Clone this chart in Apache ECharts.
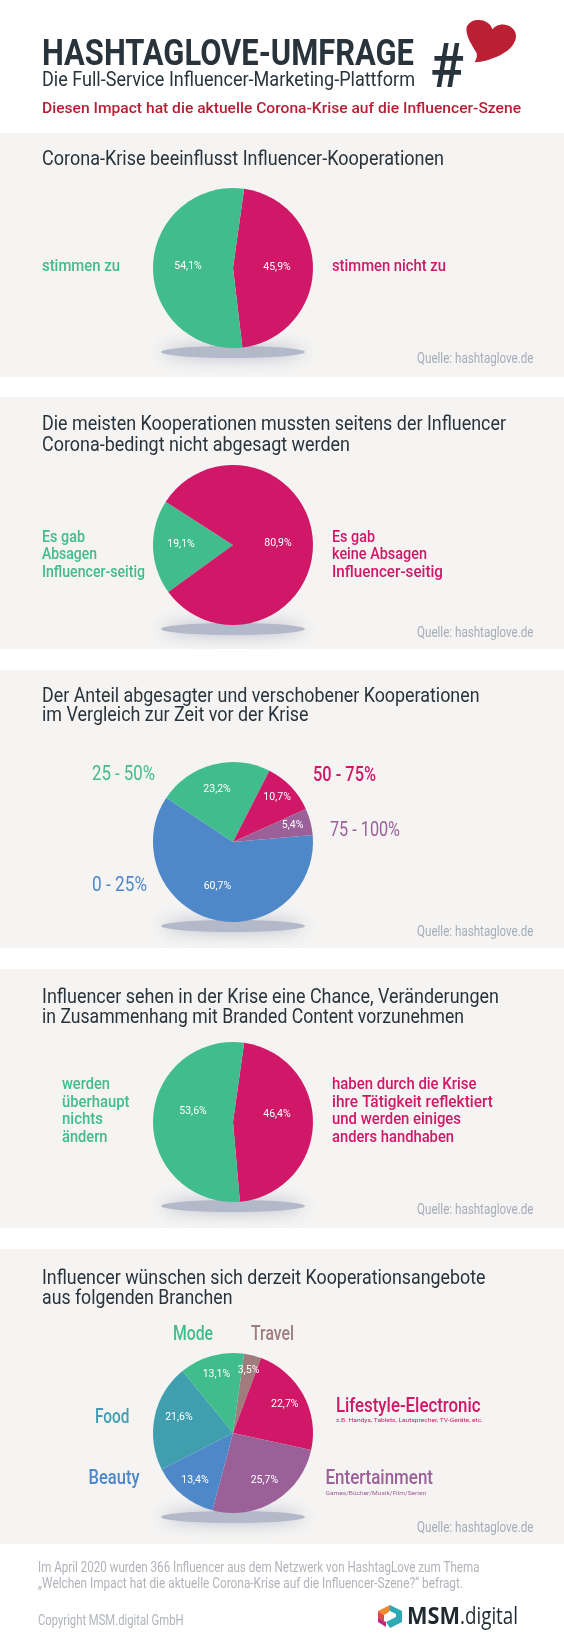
<!DOCTYPE html>
<html><head><meta charset="utf-8">
<style>html,body{margin:0;padding:0;background:#fff}#c{width:564px;height:1651px}</style>
<script src="https://cdn.jsdelivr.net/npm/echarts@6/dist/echarts.min.js"></script>
</head><body><div id="c"></div>
<script>
// ---- data ----
const corona1Names = ['stimmen nicht zu', 'stimmen zu'];
const corona1Values = [45.9, 54.1];
const absagenNames = ['Es gab Absagen Influencer-seitig', 'Es gab keine Absagen Influencer-seitig'];
const absagenValues = [19.1, 80.9];
const anteilNames = ['0 - 25%', '25 - 50%', '50 - 75%', '75 - 100%'];
const anteilValues = [60.7, 23.2, 10.7, 5.4];
const chanceNames = ['haben durch die Krise ihre Tätigkeit reflektiert und werden einiges anders handhaben', 'werden überhaupt nichts ändern'];
const chanceValues = [46.4, 53.6];
const branchenNames = ['Travel', 'Lifestyle-Electronic', 'Entertainment', 'Beauty', 'Food', 'Mode'];
const branchenValues = [3.5, 22.7, 25.7, 13.4, 21.6, 13.1];

// ---- styles ----
const GREEN = '#41bc8c', MAG = '#d01768', BLUE = '#4f88c9', PURP = '#9c6098', TEAL = '#3f9fae', TAUPE = '#a07c7c';
const DARK = '#28333b', GREY = '#a6adb8', FOOT = '#b0b4ba', BG = '#f5f4f3';
const SANS = 'Roboto';

const ctx = document.createElement('canvas').getContext('2d');
function T(text, x, base, right, size, color, weight, family) {
  weight = weight || 400; family = family || SANS;
  const font = weight + ' ' + size + 'px "' + family + '"';
  ctx.font = font;
  const sx = (right - x) / ctx.measureText(text).width;
  return {type: 'text', x: x, y: base - 0.25 * size, scaleX: sx, silent: true,
    style: {text: text, font: font, fill: color, align: 'left', verticalAlign: 'middle'}};
}
const g = [];
// section panels
[[133, 377], [397, 649], [670, 948], [969, 1228], [1249, 1544]].forEach(s => {
  g.push({type: 'rect', shape: {x: 0, y: s[0], width: 564, height: s[1] - s[0]}, style: {fill: BG}, silent: true});
});
// pie shadows
[268, 545, 842, 1122, 1433].forEach(cy => {
  g.push({type: 'ellipse', shape: {cx: 233, cy: cy + 84, rx: 72, ry: 6}, silent: true,
    style: {fill: '#b3b9c8', shadowBlur: 16, shadowColor: '#b3b9c8'}});
});
// header
g.push(T('HASHTAGLOVE-UMFRAGE', 42, 65, 414, 36, DARK, 700));
g.push(T('Die Full-Service Influencer-Marketing-Plattform', 42, 85.5, 415, 20, DARK, 400));
g.push(T('Diesen Impact hat die aktuelle Corona-Krise auf die Influencer-Szene', 42, 113, 521, 14, '#b81f35', 500));
g.push(T('#', 430, 87, 464, 62, DARK, 500));
// heart outline, sampled from cubic curves (crop pixels of the logo)
const heartCurves = [
  [[163,157],[210,155],[285,125],[288,80]],
  [[288,80],[288,45],[240,30],[217,58]],
  [[217,58],[210,30],[160,15],[140,50]],
  [[140,50],[135,80],[160,110],[170,130]],
  [[170,130],[172,142],[168,150],[163,157]]
];
const heartPts = [];
heartCurves.forEach(c => {
  for (let k = 0; k < 16; k++) {
    const t = k / 16, u = 1 - t;
    const f = i => u*u*u*c[0][i] + 3*u*u*t*c[1][i] + 3*u*t*t*c[2][i] + t*t*t*c[3][i];
    heartPts.push([420 + f(0) / 3, 10 + f(1) / 3]);
  }
});
g.push({type: 'polygon', shape: {points: heartPts}, style: {fill: '#bb1f33'}, silent: true});
// section titles
g.push(T('Corona-Krise beeinflusst Influencer-Kooperationen', 42, 165, 444, 21, DARK));
g.push(T('Die meisten Kooperationen mussten seitens der Influencer', 42, 430, 506, 21, DARK));
g.push(T('Corona-bedingt nicht abgesagt werden', 42, 451, 350, 21, DARK));
g.push(T('Der Anteil abgesagter und verschobener Kooperationen', 42, 701.5, 479.5, 21, DARK));
g.push(T('im Vergleich zur Zeit vor der Krise', 42, 721, 308.5, 21, DARK));
g.push(T('Influencer sehen in der Krise eine Chance, Veränderungen', 42, 1003, 499, 21, DARK));
g.push(T('in Zusammenhang mit Branded Content vorzunehmen', 42, 1023, 464, 21, DARK));
g.push(T('Influencer wünschen sich derzeit Kooperationsangebote', 42, 1284, 485.5, 21, DARK));
g.push(T('aus folgenden Branchen', 42, 1304, 232.5, 21, DARK));
// side labels
g.push(T('stimmen zu', 42, 271, 120, 17, GREEN, 500));
g.push(T('stimmen nicht zu', 332, 271, 446, 17, MAG, 500));
g.push(T('Es gab', 42, 541.5, 85, 17, GREEN, 500));
g.push(T('Absagen', 42, 559, 97, 17, GREEN, 500));
g.push(T('Influencer-seitig', 42, 576.5, 145, 17, GREEN, 500));
g.push(T('Es gab', 332, 541.5, 375, 17, MAG, 500));
g.push(T('keine Absagen', 332, 559, 427, 17, MAG, 500));
g.push(T('Influencer-seitig', 332, 576.5, 443, 17, MAG, 500));
g.push(T('25 - 50%', 92, 780, 155, 21, GREEN, 400));
g.push(T('50 - 75%', 313, 781, 376, 21, MAG, 500));
g.push(T('75 - 100%', 330, 836, 400, 21, PURP, 400));
g.push(T('0 - 25%', 92, 891, 147, 21, BLUE, 400));
g.push(T('werden', 62, 1089, 110, 17, GREEN, 500));
g.push(T('überhaupt', 62, 1106.5, 129.5, 17, GREEN, 500));
g.push(T('nichts', 62, 1124, 103, 17, GREEN, 500));
g.push(T('ändern', 62, 1141.5, 107.5, 17, GREEN, 500));
g.push(T('haben durch die Krise', 332, 1089, 476.5, 17, MAG, 500));
g.push(T('ihre Tätigkeit reflektiert', 332, 1106.5, 493, 17, MAG, 500));
g.push(T('und werden einiges', 332, 1124, 461, 17, MAG, 500));
g.push(T('anders handhaben', 332, 1141.5, 454, 17, MAG, 500));
g.push(T('Mode', 173, 1340, 213, 21, GREEN, 500));
g.push(T('Travel', 251, 1340, 294, 21, TAUPE, 500));
g.push(T('Food', 95, 1423, 129.5, 21, TEAL, 500));
g.push(T('Beauty', 88.5, 1484, 139.5, 21, BLUE, 500));
g.push(T('Lifestyle-Electronic', 336, 1412, 480.5, 21, MAG, 500));
g.push(T('z.B. Handys, Tablets, Lautsprecher, TV-Geräte, etc.', 336, 1422, 483, 6, MAG, 400));
g.push(T('Entertainment', 325.5, 1484, 433, 21, PURP, 500));
g.push(T('Games/Bücher/Musik/Film/Serien', 325.5, 1495, 426, 6, PURP, 400));
// sources
[363, 637, 936, 1214, 1532].forEach(b => g.push(T('Quelle: hashtaglove.de', 417, b, 533.5, 15, GREY, 400)));
// footer
g.push(T('Im April 2020 wurden 366 Influencer aus dem Netzwerk von HashtagLove zum Thema', 38, 1572, 479.5, 14, FOOT, 400));
g.push(T('„Welchen Impact hat die aktuelle Corona-Krise auf die Influencer-Szene?“ befragt.', 38, 1588, 463, 14, FOOT, 400));
g.push(T('Copyright MSM.digital GmbH', 38, 1625, 183.5, 14, FOOT, 400));
// logo
const hexPieces = [
  ['#2fa9b5', [[390, 1605], [402, 1611], [402, 1622], [390, 1628], [386, 1622], [396, 1617], [396, 1614], [386, 1609]]],
  ['#f08a2e', [[390, 1605], [378, 1611], [384, 1615], [389, 1612]]],
  ['#e8483f', [[378, 1611], [378, 1617], [384, 1621], [384, 1615]]],
  ['#c2287e', [[378, 1617], [378, 1622], [386, 1627], [386, 1622], [384, 1621]]],
];
hexPieces.forEach(p => g.push({type: 'polygon', shape: {points: p[1]}, style: {fill: p[0]}, silent: true}));
g.push(T('MSM', 407, 1623, 460, 23, '#1f2a30', 700, 'Open Sans'));
g.push(T('.digital', 460, 1623, 518, 23, '#1f2a30', 400, 'Open Sans'));

// ---- pies ----
function pct(v) { return v.toFixed(1).replace('.', ',') + '%'; }
function pie(names, values, colors, cy, startAngle, offsets) {
  return {
    type: 'pie', center: [233, cy], radius: [0, 80], startAngle: startAngle, clockwise: true,
    silent: true, animation: false, avoidLabelOverlap: false, sort: null,
    color: colors,
    data: names.map((n, i) => ({name: n, value: values[i]})),
    itemStyle: {borderWidth: 0},
    label: {show: true, position: 'inside', color: '#fff', fontFamily: 'Roboto', fontSize: 10.5,
      formatter: p => pct(p.value)},
    labelLine: {show: false},
    labelLayout: p => ({dx: offsets[p.dataIndex][0], dy: offsets[p.dataIndex][1]})
  };
}
const chart = echarts.init(document.getElementById('c'), null, {renderer: 'canvas', width: 564, height: 1651});
chart.setOption({
  backgroundColor: '#fff',
  animation: false,
  graphic: {elements: g},
  series: [
    pie(corona1Names, corona1Values, [MAG, GREEN], 268, 82, [[1, -1], [-2, -1]]),
    pie(absagenNames, absagenValues, [GREEN, MAG], 545, 216, [[-9, -2], [2, 0]]),
    pie(anteilNames, anteilValues, [BLUE, GREEN, MAG, PURP], 842, 5, [[-5, 3], [-5, -11], [13, -15], [18, -6]]),
    pie(chanceNames, chanceValues, [MAG, GREEN], 1122, 82, [[1, -9], [3, -9]]),
    pie(branchenNames, branchenValues, [TAUPE, MAG, PURP, BLUE, TEAL, GREEN], 1433, 82,
      [[5, -21], [14, -8], [9, 11], [-11, 14], [-12, -7], [-5, -17]])
  ]
});
</script></body></html>
